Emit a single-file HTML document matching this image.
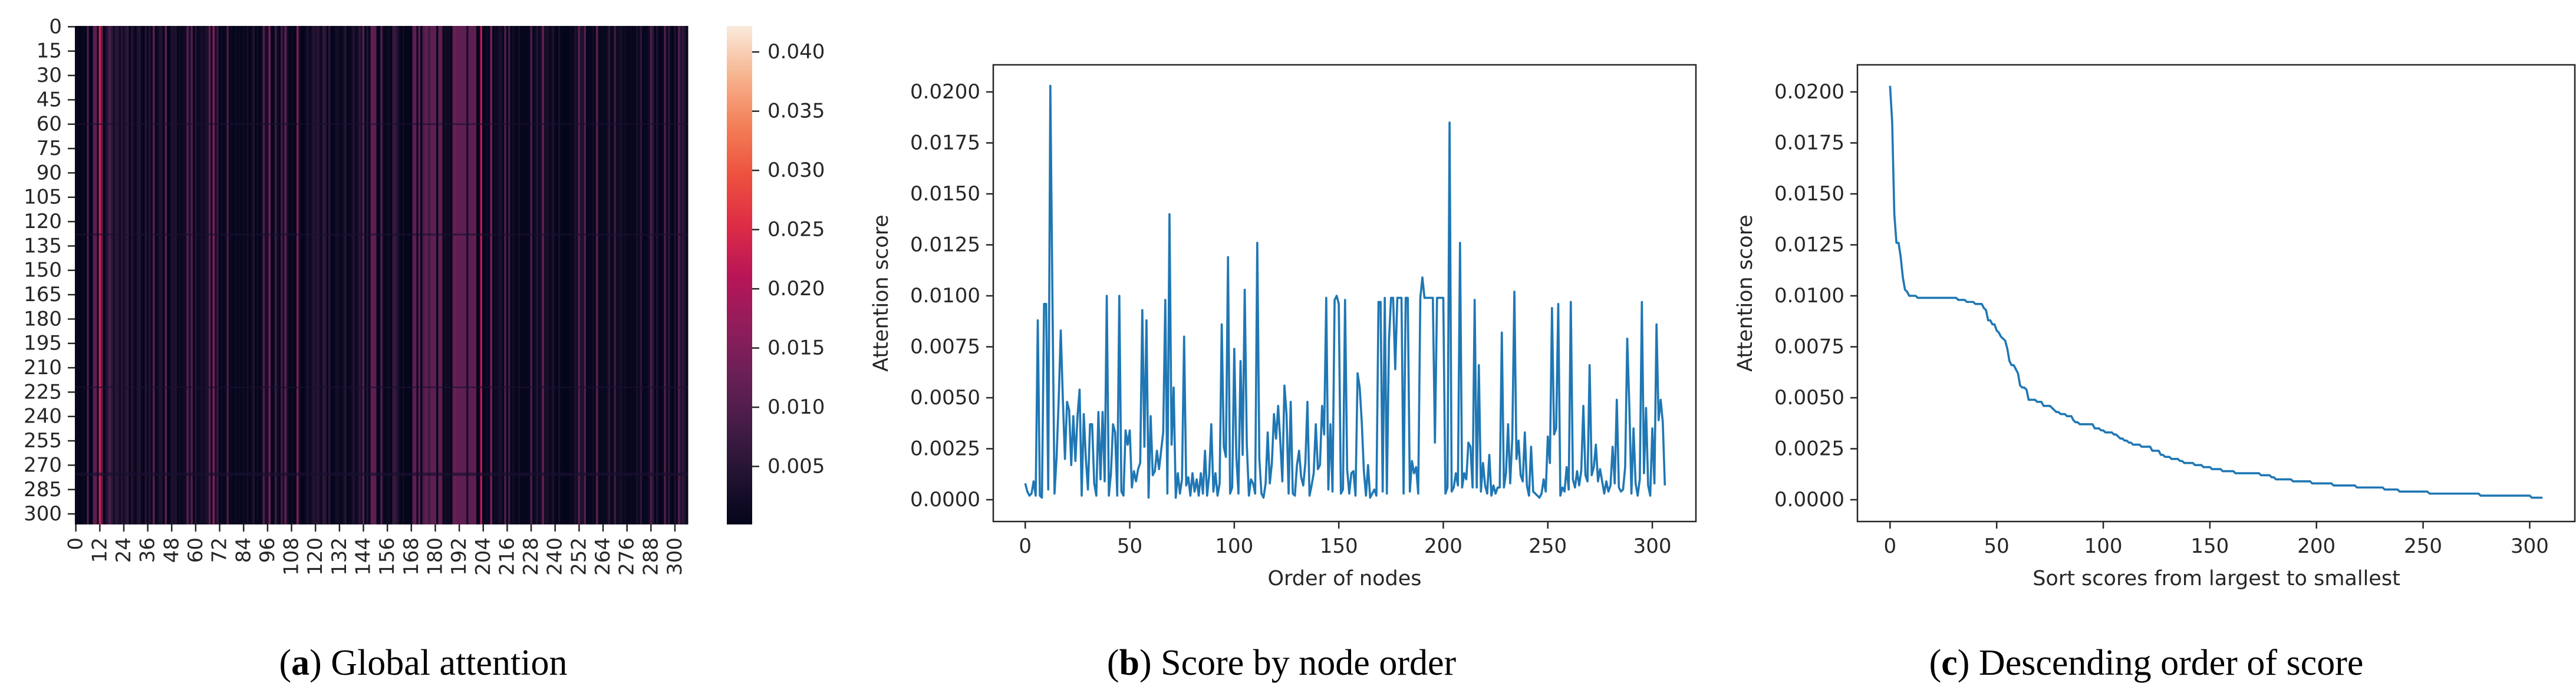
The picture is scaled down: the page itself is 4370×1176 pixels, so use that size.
<!DOCTYPE html>
<html><head><meta charset="utf-8"><style>
html,body{margin:0;padding:0;background:#fff;}
svg{display:block;}
.tk{font-family:"DejaVu Sans","Liberation Sans",sans-serif;font-size:34px;fill:#262626;}
.al{font-family:"DejaVu Sans","Liberation Sans",sans-serif;font-size:35px;fill:#262626;}
.cap{font-family:"Liberation Serif",serif;font-size:62px;fill:#000;}
</style></head><body>
<svg id="fig" width="4370" height="1176" viewBox="0 0 4370 1176" xmlns="http://www.w3.org/2000/svg">
<g id="pa"></g>
<g id="pb"></g>
<g id="pc"></g>
<text class="cap" x="718" y="1145" text-anchor="middle">(<tspan font-weight="bold">a</tspan>) Global attention</text>
<text class="cap" x="2174" y="1145" text-anchor="middle">(<tspan font-weight="bold">b</tspan>) Score by node order</text>
<text class="cap" x="3641" y="1145" text-anchor="middle">(<tspan font-weight="bold">c</tspan>) Descending order of score</text>
</svg>
<script>
// attention scores (thousandths) by node order
const scores = [
0.8,0.4,0.2,0.3,0.9,0.2,8.8,0.2,0.1,9.6,
9.6,0.5,20.3,10.0,0.3,2.1,4.9,8.3,4.9,2.0,
4.8,4.4,1.7,4.1,1.9,4.1,5.4,0.2,4.2,2.0,
0.5,3.7,3.7,0.8,0.2,4.3,1.0,4.3,0.9,10.0,
0.2,1.3,3.7,3.3,0.2,10.0,0.4,0.2,3.4,2.7,
3.4,0.6,1.4,0.9,1.5,1.8,9.3,2.6,8.8,0.1,
4.1,1.2,1.4,2.4,1.5,2.4,3.3,9.8,0.3,14.0,
2.7,5.5,0.1,1.3,0.3,1.0,8.0,0.7,1.1,0.2,
1.3,0.4,1.0,0.2,1.3,0.3,2.4,0.2,1.2,3.7,
0.4,1.3,0.2,0.8,8.6,2.6,2.1,11.9,0.3,0.6,
7.4,2.1,0.3,6.8,2.2,10.3,2.7,0.2,1.0,0.8,
0.3,12.6,2.0,0.3,0.1,0.8,3.3,0.8,1.8,4.2,
3.0,4.6,2.9,0.9,5.6,4.2,0.3,4.8,0.3,0.2,
1.7,2.4,1.1,0.7,1.8,4.8,0.2,0.7,1.3,3.7,
1.5,1.7,4.6,3.2,9.9,0.5,3.7,0.4,9.8,10.0,
9.6,0.3,0.5,9.8,1.5,0.3,1.3,1.4,0.2,6.2,
5.5,3.8,1.4,0.2,1.7,0.1,0.3,0.5,0.2,9.7,
9.7,0.4,9.9,0.3,7.8,9.9,9.9,6.4,9.9,9.9,
9.9,0.3,9.9,9.9,0.4,1.9,1.3,1.6,0.3,9.9,
10.9,9.9,9.9,9.9,9.9,9.9,2.8,9.9,9.9,9.9,
9.9,0.3,0.6,18.5,0.4,0.6,1.3,0.7,12.6,0.6,
1.3,1.0,2.8,2.6,0.6,9.8,0.6,6.6,0.4,1.8,
0.7,0.3,2.2,0.2,0.7,0.3,0.6,0.6,8.2,0.6,
1.3,3.7,0.8,3.0,10.2,2.0,2.9,1.2,0.9,3.3,
0.7,0.2,2.6,0.4,0.3,0.2,0.1,0.3,1.0,0.4,
3.1,1.8,9.4,3.2,3.5,9.6,0.2,0.6,0.4,1.6,
0.5,9.7,1.0,0.6,1.4,0.7,1.4,4.6,1.2,0.9,
6.6,1.2,1.6,2.7,0.9,1.5,0.9,0.3,0.9,0.4,
0.7,2.6,0.8,4.9,0.6,0.4,0.5,1.6,7.9,4.6,
0.3,3.5,0.8,0.2,1.0,9.7,1.3,4.5,0.7,0.2,
3.5,0.8,8.6,3.9,4.9,3.8,0.7];
const yTicks = [0,0.0025,0.005,0.0075,0.01,0.0125,0.015,0.0175,0.02];
const yTickLabels = ["0.0000","0.0025","0.0050","0.0075","0.0100","0.0125","0.0150","0.0175","0.0200"];
const xTicks = [0,50,100,150,200,250,300];
const cbTicks = [0.005,0.01,0.015,0.02,0.025,0.03,0.035,0.04];
const cbTickLabels = ["0.005","0.010","0.015","0.020","0.025","0.030","0.035","0.040"];
const hmRowTicks = [0,15,30,45,60,75,90,105,120,135,150,165,180,195,210,225,240,255,270,285,300];
const hmColTicks = [0,12,24,36,48,60,72,84,96,108,120,132,144,156,168,180,192,204,216,228,240,252,264,276,288,300];
const darkRows = [60,128,222,275,276];

const NS="http://www.w3.org/2000/svg";
function mk(parent,tag,attrs){const e=document.createElementNS(NS,tag);for(const k in attrs)e.setAttribute(k,attrs[k]);parent.appendChild(e);return e;}
const N=scores.length;
const vals=scores.map(v=>v/1000);

// rocket colormap
const rk=[[0,3,5,26],[0.1,34,19,49],[0.2,69,28,71],[0.3,106,31,86],[0.4,146,28,91],[0.5,185,22,87],[0.6,221,44,69],[0.7,237,81,62],[0.8,243,127,88],[0.9,246,180,142],[1,250,235,221]];
function rocket(t){t=Math.max(0,Math.min(1,t));for(let i=1;i<rk.length;i++){if(t<=rk[i][0]){const a=rk[i-1],b=rk[i],f=(t-a[0])/(b[0]-a[0]);return `rgb(${Math.round(a[1]+f*(b[1]-a[1]))},${Math.round(a[2]+f*(b[2]-a[2]))},${Math.round(a[3]+f*(b[3]-a[3]))})`;}}return "rgb(250,235,221)";}

// ---------- Panel A: heatmap ----------
const pa=document.getElementById('pa');
const HX0=127,HX1=1167,HY0=44,HY1=890,VMIN=0.0001,VMAX=0.0422;
const cw=(HX1-HX0)/N, rh=(HY1-HY0)/N;
const hcol=j=>HX0+j*cw, hrow=i=>HY0+i*rh;
const heatVal=v=>v*1.15;
const cmap=v=>rocket((v-VMIN)/(VMAX-VMIN));
const hm=mk(pa,'g',{'shape-rendering':'crispEdges'});


vals.forEach((v,j)=>{
  const r=mk(hm,'rect',{x:hcol(j),y:HY0,width:cw+0.6,height:HY1-HY0,fill:cmap(heatVal(v))});
  
  
});
darkRows.forEach(i=>{
  const r=mk(hm,'rect',{x:HX0,y:hrow(i),width:HX1-HX0,height:rh,fill:'#1a1030',opacity:0.7});
  
  
});
hmRowTicks.forEach(i=>{
  const y=hrow(i+0.5);
  const t=mk(pa,'line',{x1:HX0-12,x2:HX0,y1:y,y2:y,stroke:'#262626','stroke-width':2.5});
  
  
  const l=mk(pa,'text',{x:HX0-22,y:y,'text-anchor':'end','dominant-baseline':'central',class:'tk'});
  l.textContent=i;
  
  
});
hmColTicks.forEach(j=>{
  const x=hcol(j+0.5);
  const t=mk(pa,'line',{x1:x,x2:x,y1:HY1,y2:HY1+12,stroke:'#262626','stroke-width':2.5});
  
  
  const l=mk(pa,'text',{x:0,y:0,'text-anchor':'end','dominant-baseline':'central',class:'tk',transform:`translate(${x},${HY1+22}) rotate(-90)`});
  l.textContent=j;
  
  
});
// colorbar
const CX0=1233,CX1=1276;
const cby=v=>HY1-(v-VMIN)/(VMAX-VMIN)*(HY1-HY0);
const defs=mk(document.getElementById('fig'),'defs',{});
const lg=mk(defs,'linearGradient',{id:'cbg',x1:0,y1:1,x2:0,y2:0});
for(let k=0;k<=20;k++){mk(lg,'stop',{offset:k/20,'stop-color':rocket(k/20)});}
const cb=mk(pa,'rect',{x:CX0,y:HY0,width:CX1-CX0,height:HY1-HY0,fill:'url(#cbg)'});


cbTicks.forEach((v,k)=>{
  const y=cby(v);
  const t=mk(pa,'line',{x1:CX1,x2:CX1+12,y1:y,y2:y,stroke:'#262626','stroke-width':2.5});
  
  
  const l=mk(pa,'text',{x:CX1+26,y:y,'dominant-baseline':'central',class:'tk'});
  l.textContent=cbTickLabels[k];
  
  
});

// ---------- line panels ----------
function linePanel(g,X0,X1,xpu,data,xlabel,xlabelCx){
  const Y0=110,Y1=885;
  const xs=v=>X0+(v+15.3)*xpu;
  const ys=v=>848-v/0.0025*86.5;
  const d=data.map((v,i)=>(i?'L':'M')+xs(i).toFixed(2)+','+ys(v).toFixed(2)).join('');
  const p=mk(g,'path',{d:d,fill:'none',stroke:'#1f77b4','stroke-width':3.6,'stroke-linejoin':'round'});
  
  
  const fr=mk(g,'rect',{x:X0,y:Y0,width:X1-X0,height:Y1-Y0,fill:'none',stroke:'#262626','stroke-width':2.5});
  
  
  yTicks.forEach((v,k)=>{
    const y=ys(v);
    const t=mk(g,'line',{x1:X0-12,x2:X0,y1:y,y2:y,stroke:'#262626','stroke-width':2.5});
    
    
    const l=mk(g,'text',{x:X0-22,y:y,'text-anchor':'end','dominant-baseline':'central',class:'tk'});
    l.textContent=yTickLabels[k];
    
    
  });
  xTicks.forEach(v=>{
    const x=xs(v);
    const t=mk(g,'line',{x1:x,x2:x,y1:Y1,y2:Y1+12,stroke:'#262626','stroke-width':2.5});
    
    
    const l=mk(g,'text',{x:x,y:927,'text-anchor':'middle','dominant-baseline':'central',class:'tk'});
    l.textContent=v;
    
    
  });
  const yl=mk(g,'text',{x:0,y:0,'text-anchor':'middle','dominant-baseline':'central',class:'al',transform:`translate(${X0-190},${(Y0+Y1)/2}) rotate(-90)`});
  yl.textContent='Attention score';
  
  
  const xl=mk(g,'text',{x:xlabelCx,y:982,'text-anchor':'middle','dominant-baseline':'central',class:'al'});
  xl.textContent=xlabel;
  
  
}
linePanel(document.getElementById('pb'),1685,2877,3.546,vals,'Order of nodes',2281);
const sorted=vals.slice().sort((a,b)=>b-a);
linePanel(document.getElementById('pc'),3151,4368,3.617,sorted,'Sort scores from largest to smallest',3760);
</script>
</body></html>
